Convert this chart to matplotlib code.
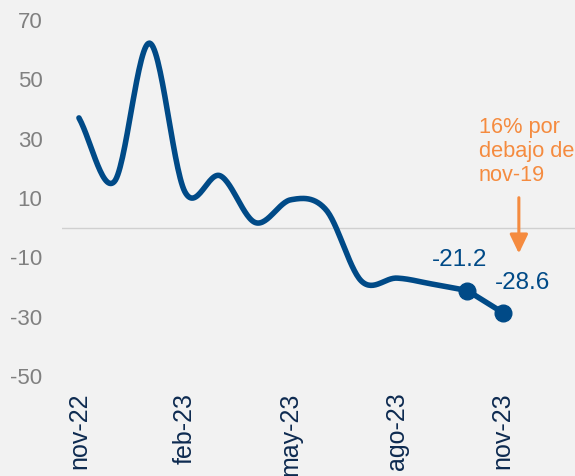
import numpy as np
import matplotlib
matplotlib.use("Agg")
import matplotlib.pyplot as plt

months = ["nov-22", "dic-22", "ene-23", "feb-23", "mar-23", "abr-23", "may-23",
          "jun-23", "jul-23", "ago-23", "sep-23", "oct-23", "nov-23"]
values = [37.0, 15.5, 62.2, 12.1, 17.5, 1.7, 9.4, 6.0, -18.0, -17.0, -19.0, -21.2, -28.6]
tick_labels = ["nov-22", "feb-23", "may-23", "ago-23", "nov-23"]
y_ticks = [70, 50, 30, 10, -10, -30, -50]
note = "16% por\ndebajo de\nnov-19"

BLUE = "#004A87"
ORANGE = "#F58B3F"
BG = "#F2F2F2"

def catmull_rom(x, y, n=30):
    x = np.asarray(x, float); y = np.asarray(y, float)
    px = np.concatenate([[2*x[0]-x[1]], x, [2*x[-1]-x[-2]]])
    py = np.concatenate([[2*y[0]-y[1]], y, [2*y[-1]-y[-2]]])
    xs, ys = [], []
    for i in range(1, len(px)-2):
        t = np.linspace(0, 1, n, endpoint=False)
        for P, out in ((px, xs), (py, ys)):
            p0, p1, p2, p3 = P[i-1], P[i], P[i+1], P[i+2]
            out.extend(0.5*((2*p1) + (-p0+p2)*t + (2*p0-5*p1+4*p2-p3)*t**2 + (-p0+3*p1-3*p2+p3)*t**3))
    xs.append(x[-1]); ys.append(y[-1])
    return np.array(xs), np.array(ys)

plt.rcParams['font.family'] = ['Liberation Sans', 'DejaVu Sans']
fig = plt.figure(figsize=(5.75, 4.76), dpi=100, facecolor=BG)
ax = fig.add_axes([62/575, 1-376/476, (575-62)/575, (376-20)/476])
ax.set_facecolor(BG)

x = np.arange(len(values))
xs, ys = catmull_rom(x[:-1], values[:-1])
ax.plot(xs, ys, color=BLUE, lw=4, solid_capstyle='round', solid_joinstyle='round', zorder=3)
ax.plot(x[-2:], values[-2:], color=BLUE, lw=4, zorder=3)
ax.plot(x[-2:], values[-2:], 'o', color=BLUE, ms=12, zorder=4)

ax.axhline(0, color="#D0D0D0", lw=1, zorder=1)

ax.set_xlim(-0.48, 14.05)
ax.set_ylim(-50, 70)
ax.set_yticks(y_ticks)
ax.set_yticklabels([str(v) for v in y_ticks], color="#808080", fontsize=16)
ax.set_xticks([months.index(m) for m in tick_labels])
ax.set_xticklabels(tick_labels, rotation=90, color="#0D2A50", fontsize=18, va='top')
ax.tick_params(axis='y', length=0, pad=14)
ax.tick_params(axis='x', length=0, pad=12)
for s in ax.spines.values():
    s.set_visible(False)

ax.text(x[-2] - 0.22, values[-2] + 10.2, f"{values[-2]:.1f}", color=BLUE, fontsize=17.5,
        ha='center', va='center')
ax.text(x[-1] + 0.55, values[-1] + 9.8, f"{values[-1]:.1f}", color=BLUE, fontsize=17.5,
        ha='center', va='center')
ax.text(11.32, 25.6, note, color=ORANGE, fontsize=15.7, ha='left', va='center', linespacing=1.2)
ax.annotate("", xy=(12.46, -8.7), xytext=(12.46, 10.1),
            arrowprops=dict(arrowstyle='-|>,head_width=0.55,head_length=1.15', color=ORANGE,
                            lw=2.2, shrinkA=0, shrinkB=0))

fig.savefig("out.png", dpi=100, facecolor=BG)
